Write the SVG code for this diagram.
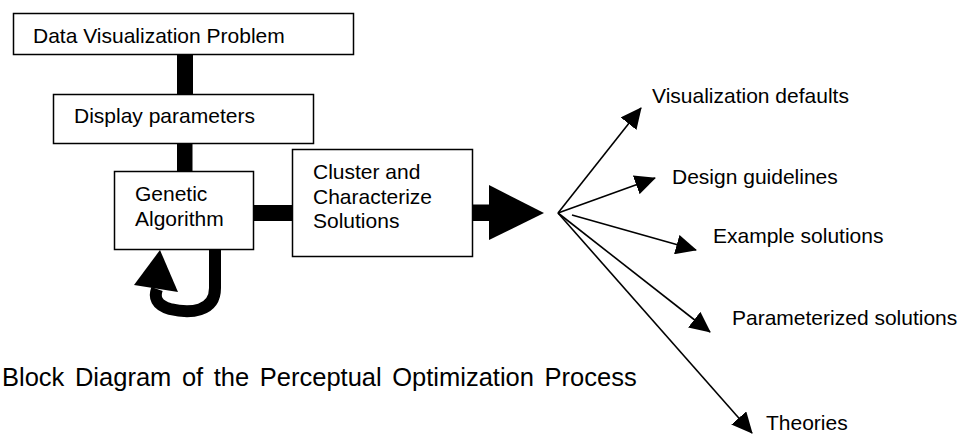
<svg xmlns="http://www.w3.org/2000/svg" width="963" height="434" viewBox="0 0 963 434">
<style>
  .box { fill: #ffffff; stroke: #000000; stroke-width: 1.5; }
  .t { font-family: "Liberation Sans", Arial, sans-serif; font-size: 21px; fill: #000000; }
  .cap { font-family: "Liberation Sans", Arial, sans-serif; font-size: 25.5px; fill: #000000; word-spacing: 3.5px; }
  .bar { fill: #000000; }
  .thin { stroke: #000000; stroke-width: 1.6; fill: none; marker-end: url(#head); }
</style>
<defs>
  <marker id="head" viewBox="0 0 21 20" refX="20" refY="10" markerWidth="21" markerHeight="20" markerUnits="userSpaceOnUse" orient="auto">
    <path d="M0,0 L21,10 L0,20 Z" fill="#000000"/>
  </marker>
</defs>
<rect width="963" height="434" fill="#ffffff"/>
<g id="connectors">
  <rect class="bar" x="177" y="54" width="16" height="40"/>
  <rect class="bar" x="177" y="143" width="15.5" height="28"/>
  <rect class="bar" x="253" y="205" width="39" height="16"/>
  <rect class="bar" x="472" y="204.5" width="18" height="16.5"/>
  <polygon class="bar" points="489,185 544,213 489,240"/>
  <path d="M215,249 L215,288 C215,312 190,314 170,309 C156,305 154,297 157,289" fill="none" stroke="#000" stroke-width="12"/>
  <polygon class="bar" points="160,250 134,285 178,292"/>
  <line class="thin" x1="558" y1="213" x2="641" y2="108"/>
  <line class="thin" x1="558" y1="213" x2="655" y2="178"/>
  <line class="thin" x1="572" y1="215" x2="696" y2="250"/>
  <line class="thin" x1="558" y1="213" x2="710" y2="332"/>
  <line class="thin" x1="558" y1="213" x2="752" y2="433"/>
</g>
<g id="n-problem">
  <rect class="box" x="13.5" y="13.5" width="340" height="41"/>
  <text class="t" x="33" y="43">Data Visualization Problem</text>
</g>
<g id="n-display">
  <rect class="box" x="53.5" y="94.5" width="260" height="49"/>
  <text class="t" x="74" y="123">Display parameters</text>
</g>
<g id="n-genetic">
  <rect class="box" x="114.5" y="171.5" width="139" height="78"/>
  <text class="t" x="135" y="201">Genetic</text>
  <text class="t" x="135" y="226">Algorithm</text>
</g>
<g id="n-cluster">
  <rect class="box" x="292.5" y="149.5" width="180" height="107"/>
  <text class="t" x="313" y="179">Cluster and</text>
  <text class="t" x="313" y="204">Characterize</text>
  <text class="t" x="313" y="228">Solutions</text>
</g>
<g id="n-defaults"><text class="t" x="652" y="103">Visualization defaults</text></g>
<g id="n-guidelines"><text class="t" x="672" y="184">Design guidelines</text></g>
<g id="n-examples"><text class="t" x="713" y="243">Example solutions</text></g>
<g id="n-param"><text class="t" x="732" y="325">Parameterized solutions</text></g>
<g id="n-theories"><text class="t" x="766" y="430">Theories</text></g>
<g id="caption"><text class="cap" x="2" y="386">Block Diagram of the Perceptual Optimization Process</text></g>
</svg>
